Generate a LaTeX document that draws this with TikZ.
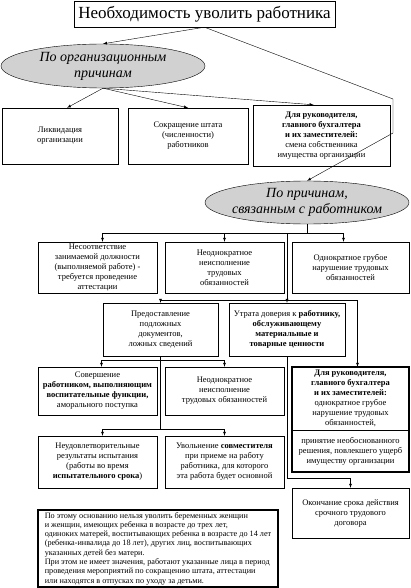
\documentclass[tikz,border=0pt]{standalone}
\usepackage{fontspec}
\setmainfont{Liberation Serif}
\usetikzlibrary{shapes.geometric}

\begin{document}
\begin{tikzpicture}%
  [x=1pt,y=-1pt,font=\fontsize{8.5}{10}\selectfont,
   arr/.style={->,>=latex}]
  \tikzstyle{box node}=[rectangle,draw,align=center,inner sep=1]
  \tikzstyle{oval node}=[ellipse,draw,fill=black!18,inner sep=0]
  \tikzstyle{oval text}=[align=center,inner sep=0,
    font=\fontsize{14}{16}\selectfont\itshape]
  \useasboundingbox (0,0) rectangle (410,588);
  % top
  \node(0)[box node,minimum width=261,minimum height=26,
    font=\fontsize{17}{19}\selectfont] at (204.5,14)
    {Необходимость уволить работника};
  \node(1)[oval node,minimum width=204,minimum height=44] at (103,66) {};
  \node(1t)[oval text] at (1.center) {По организационным\\причинам};
  % organisational reasons
  \node(11)[box node,minimum width=116,minimum height=56] at (60,136)
    {Ликвидация\\организации};
  \node(12)[box node,minimum width=120,minimum height=56] at (188,136)
    {Сокращение штата\\(численности)\\работников};
  \node(13)[box node,minimum width=137,minimum height=61] at (321.5,135.5)
    {\textbf{Для руководителя,}\\\textbf{главного бухгалтера}\\
     \textbf{и их заместителей:}\\смена собственника\\имущества организации};
  \node(2)[oval node,minimum width=204,minimum height=43] at (307,202.5) {};
  \node(2t)[oval text] at (2.center) {По причинам,\\связанным с работником};
  % reasons connected with the employee
  \node(21)[box node,minimum width=119,minimum height=51] at (97.5,267.5)
    {Несоответствие\\занимаемой должности\\(выполняемой работе) -\\
     требуется проведение\\аттестации};
  \node(22)[box node,minimum width=119,minimum height=51] at (224.5,267.5)
    {Неоднократное\\неисполнение\\трудовых\\обязанностей};
  \node(23)[box node,minimum width=117,minimum height=51] at (350.5,267.5)
    {Однократное грубое\\нарушение трудовых\\обязанностей};
  \node(31)[box node,minimum width=115,minimum height=53] at (160.5,329.5)
    {Предоставление\\подложных\\документов,\\ложных сведений};
  \node(32)[box node,minimum width=116,minimum height=53] at (287,329.5)
    {Утрата доверия к \textbf{работнику,}\\\textbf{обслуживающему}\\
     \textbf{материальные и}\\\textbf{товарные ценности}};
  \node(41)[box node,minimum width=119,minimum height=48] at (97.5,391)
    {Совершение\\\textbf{работником, выполняющим}\\
     \textbf{воспитательные функции,}\\аморального поступка};
  \node(42)[box node,minimum width=119,minimum height=48] at (224.5,391)
    {Неоднократное\\неисполнение\\трудовых обязанностей};
  \node(43)[box node,minimum width=117,minimum height=63] at (350.5,398.5)
    {\textbf{Для руководителя,}\\\textbf{главного бухгалтера}\\
     \textbf{и их заместителей:}\\однократное грубое\\нарушение трудовых\\
     обязанностей,};
  \node(44)[box node,minimum width=117,minimum height=42] at (350.5,451)
    {принятие необоснованного\\решения, повлекшего ущерб\\имуществу организации};
  \draw[line width=1.5] (43.north west) rectangle (44.south east);
  \node(51)[box node,minimum width=119,minimum height=52] at (97.5,462)
    {Неудовлетворительные\\результаты испытания\\(работы во время\\
     \textbf{испытательного срока})};
  \node(52)[box node,minimum width=119,minimum height=52] at (224.5,462)
    {Увольнение \textbf{совместителя}\\при приеме на работу\\
     работника, для которого\\эта работа будет основной};
  \node(53)[box node,minimum width=117,minimum height=50] at (350.5,513)
    {Окончание срока действия\\срочного трудового\\договора};
  \node(n)[box node,line width=1.5,minimum width=240,minimum height=77,
    align=left,inner xsep=3,font=\fontsize{8.2}{9.3}\selectfont] at (158,548.5)
    {По этому основанию нельзя уволить беременных женщин\\
     и женщин, имеющих ребенка в возрасте до трех лет,\\
     одиноких матерей, воспитывающих ребенка в возрасте до 14 лет\\
     (ребенка-инвалида до 18 лет), других лиц, воспитывающих\\
     указанных детей без матери.\\
     При этом не имеет значения, работают указанные лица в период\\
     проведения мероприятий по сокращению штата, аттестации\\
     или находятся в отпусках по уходу за детьми.};
  % connectors
  \coordinate(c1) at (393,99);
  \coordinate(c2) at (393,133);
  \coordinate(b2) at (307,233);
  \coordinate(b3) at (287,300);
  \coordinate(b4) at (160.5,360);
  \coordinate(b5) at (160.5,429);
  \draw[arr] (0.south) -- (1.north);
  \draw[arr] (0.south) -- (c1) -- (c2) -- (2.north);
  \draw[arr] (1.south) -- ([xshift=7]11.north);
  \draw[arr] (1.south) -- (12.north);
  \draw[arr] (1.south) -- ([xshift=-8]13.north);
  \draw (2.south) -- (b2);
  \draw[arr] (b2) -| ([xshift=5]21.north);
  \draw[arr] (b2) -| (22.north);
  \draw[arr] (b2) -| ([xshift=-7]23.north);
  \draw[arr] (b2 -| b3) -- (32.north);
  \draw[arr] (b3) -| (31.north);
  \draw[arr] (b3) -| ([xshift=7]43.north);
  \draw (31.south) -- (b5);
  \draw[arr] (b4) -| ([xshift=4]41.north);
  \draw[arr] (b4) -| (42.north);
  \draw[arr] (b5) -| ([xshift=5]51.north);
  \draw[arr] (b5) -| (52.north);
  \draw[arr] (32.south) |- ([yshift=10]53.north) -- (53.north);
\end{tikzpicture}
\end{document}
